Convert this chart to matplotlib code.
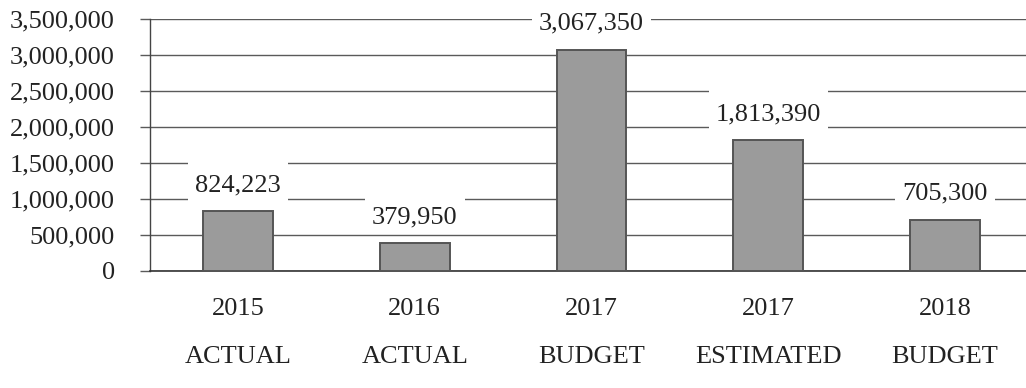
import matplotlib
matplotlib.use("Agg")
import matplotlib.pyplot as plt
from matplotlib.ticker import FuncFormatter, MultipleLocator
from matplotlib.patches import Rectangle
from matplotlib.transforms import IdentityTransform

years = ["2015", "2016", "2017", "2017", "2018"]
kinds = ["ACTUAL", "ACTUAL", "BUDGET", "ESTIMATED", "BUDGET"]
values = [824223, 379950, 3067350, 1813390, 705300]

W, H, DPI = 1026, 388, 100
fig = plt.figure(figsize=(W / DPI, H / DPI), dpi=DPI, facecolor="white")
left_px, right_px, top_px, bottom_px = 149.5, 1026, 19, 270.7
ax = fig.add_axes([left_px / W, 1 - bottom_px / H,
                   (right_px - left_px) / W, (bottom_px - top_px) / H])

font = "Liberation Serif"
fs = 19
x = list(range(len(values)))
ax.bar(x, values, width=0.395, color="#9b9b9b", edgecolor="#555555",
       linewidth=1.4, zorder=3)

ax.set_ylim(0, 3500000)
ax.set_xlim(-0.5, 4.5 - 7.5 / 177)
ax.yaxis.set_major_locator(MultipleLocator(500000))
ax.yaxis.set_major_formatter(FuncFormatter(lambda v, p: f"{int(v):,}"))
ax.grid(axis="y", color="#5a5a5a", linewidth=1.0, zorder=0)
ax.set_axisbelow(True)

for s in ["top", "right"]:
    ax.spines[s].set_visible(False)
ax.spines["left"].set_color("#444444")
ax.spines["left"].set_linewidth(1.0)
ax.spines["bottom"].set_color("#333333")
ax.spines["bottom"].set_linewidth(1.2)

ax.tick_params(axis="y", length=7, width=1.0, color="#5a5a5a", pad=18,
               labelsize=fs, labelcolor="#222222")
ax.tick_params(axis="x", length=0, pad=20, labelsize=fs, labelcolor="#222222")
ax.set_xticks(x)
ax.set_xticklabels([f"{y}\n{k}" for y, k in zip(years, kinds)],
                   linespacing=2.5)
for lab in ax.get_xticklabels() + ax.get_yticklabels():
    lab.set_fontfamily(font)

labels = []
for xi, v in zip(x, values):
    t = ax.annotate(f"{v:,}", (xi, v), xytext=(0, 14.6), textcoords="offset points",
                    ha="center", va="baseline", fontsize=fs, family=font,
                    color="#222222", zorder=5, annotation_clip=False)
    labels.append((t, xi, v))

fig.canvas.draw()
for t, xi, v in labels:
    bb = t.get_window_extent()
    bx, by = ax.transData.transform((xi, v))
    base = by + 20.3
    r = Rectangle((bb.x0 - 7, base - 11), bb.width + 14, 40.5,
                  transform=IdentityTransform(), facecolor="white",
                  edgecolor="none", zorder=2, clip_on=False)
    ax.add_patch(r)

fig.savefig("out.png", dpi=DPI, facecolor="white")
